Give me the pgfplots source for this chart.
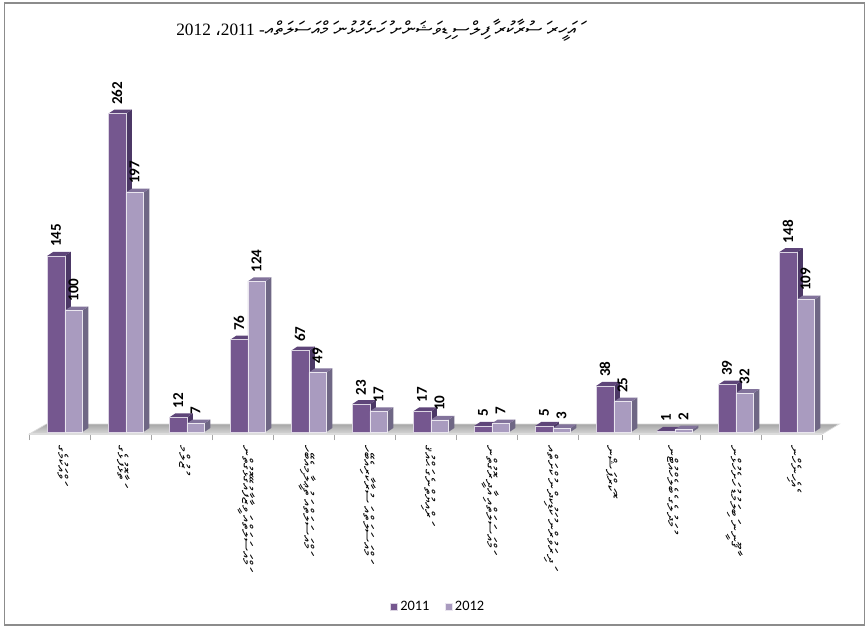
\documentclass[border=0pt]{standalone}
\usepackage{fontspec}
\usepackage{pgfplots}
\usepackage{pgfplotstable}
\pgfplotsset{compat=1.18}
\TeXXeTstate=1
\setmainfont{Carlito}
\newfontfamily\dv{FreeSerif}
\newfontfamily\serifnum{Liberation Serif}
\newfontfamily\arabicfont[Script=Arabic]{DejaVu Sans}
\definecolor{frontA}{HTML}{75578F}
\definecolor{sideA}{HTML}{4C3866}
\definecolor{topA}{HTML}{5E4579}
\definecolor{frontB}{HTML}{A99BBF}
\definecolor{sideB}{HTML}{6F6785}
\definecolor{topB}{HTML}{82739B}
\definecolor{floorF}{HTML}{DCDCDC}
\pgfplotstableread{
x a b
0 145 100
1 262 197
2 12 7
3 76 124
4 67 49
5 23 17
6 17 10
7 5 7
8 5 3
9 38 25
10 1 2
11 39 32
12 148 109
}\data
% depth of the bars, in data units
\def\ddx{0.0984}\def\ddy{3.29}\def\bw{0.287}
\newcommand\depthfaces[4]{% left x, value, side colour, top colour
  \pgfmathsetmacro\xr{#1+\bw}\pgfmathsetmacro\xrd{#1+\bw+\ddx}\pgfmathsetmacro\xld{#1+\ddx}\pgfmathsetmacro\yt{#2+\ddy}
  \addplot[forget plot,fill=#3,draw=none] coordinates {(\xr,0)(\xrd,\ddy)(\xrd,\yt)(\xr,#2)} --cycle;
  \addplot[forget plot,fill=#4,draw=none] coordinates {(#1,#2)(\xld,\yt)(\xrd,\yt)(\xr,#2)} --cycle;
}
\begin{document}
\begin{tikzpicture}[x=0.75pt,y=0.75pt]
\useasboundingbox (0,0) rectangle (866,-627);
\draw[draw=white,fill=white] (0,0) rectangle (866,-627);
\draw[color=gray!90,line width=1.1pt] (4.5,-3) rectangle (864.5,-625);
\begin{axis}[
  xshift=21.975pt,yshift=-326.25pt,anchor=south west,
  scale only axis,width=594.75pt,height=275.6pt,
  xmin=-0.5,xmax=12.5,ymin=-2.47,ymax=300,clip=false,
  axis y line=none,axis x line=bottom,
  x axis line style={draw=none,-},
  ytick=\empty,
  xtick={0,...,12},
  xticklabels={{\beginR ވައްކަމުގެ\endR},{\beginR ތަޅާފޮޅުގެ\endR},{\beginR ޒުލުމް\endR},
    {\beginR މައްސަލަތައް ވަޒީފާއާގުޅޭގޮތުން\endR},
    {\beginR މައްސަލަތައް ތަޢުލީމާއިބެހޭ\endR},
    {\beginR މައްސަލަތައް ސަރުކާރާއިބެހޭ\endR},
    {\beginR ރައްޔިތުންގެ ޙައްޤު\endR},
    {\beginR މައްސަލަތައް އިދާރީގޮތުން\endR},
    {\beginR ދަރިވަރުން ކުޑަކުދިން ކުށްތައް\endR},
    {\beginR ކޮރަޕްޝަން\endR},
    {\beginR މުދަލުގެ ބެލެހެއްޓުން\endR},
    {\beginR ޤާނޫނީ ބަލިމަޑު ހުށަހެޅުން\endR},
    {\beginR އެހެނިހެން\endR}},
  xticklabel style={rotate=-90,anchor=west,inner sep=0pt,font=\dv\fontsize{11}{12}\selectfont,text=black,xshift=8pt,yshift=2.5pt},
  major tick length=0pt,
  minor xtick={-0.5,0.5,...,12.5},
  minor tick length=3.75pt,
  every minor tick/.style={draw=gray!70,line width=0.6pt},
  tick align=outside,
  /pgf/number format/assume math mode=true,
  nodes near coords style={font=\bfseries\fontsize{11.3}{12}\selectfont},
  legend style={at={(0.516,-0.467)},anchor=center,draw=none,fill=none,legend columns=2,
     font=\fontsize{10.8}{12}\selectfont,/tikz/every even column/.append style={column sep=9.5pt}},
  legend image code/.code={\fill[#1] (0pt,-2.6pt) rectangle (5.2pt,2.6pt);},
]
% floor
\addplot[forget plot,top color=gray!70,bottom color=gray!30,draw=floorF,line width=0.5pt] coordinates {(-0.5,-1.65)(-0.221,6.58)(12.779,6.58)(12.5,-1.65)} --cycle;
\addplot[forget plot,fill=floorF,draw=none] coordinates {(-0.5,-2.47)(-0.5,-0.8)(12.5,-0.8)(12.5,-2.47)} --cycle;
% depth faces
\pgfplotsinvokeforeach{0,...,12}{
  \pgfplotstablegetelem{#1}{a}\of\data\let\va\pgfplotsretval
  \pgfplotstablegetelem{#1}{b}\of\data\let\vb\pgfplotsretval
  \pgfmathsetmacro\xa{#1-0.205}\pgfmathsetmacro\xb{#1+0.082}
  \depthfaces{\xa}{\va}{sideA}{topA}
  \depthfaces{\xb}{\vb}{sideB}{topB}
}
% front faces
\addplot[ybar,bar width=13.1pt,bar shift=-2.81pt,fill=frontA,draw=frontA!25!white,line width=0.4pt,
  nodes near coords,every node near coord/.append style={rotate=90,anchor=west,inner sep=0pt,xshift=6.5pt,yshift=2.8pt,text=black}]
  table[x=x,y=a]{\data};
\addlegendentry{2011}
\addplot[ybar,bar width=13.1pt,bar shift=10.31pt,fill=frontB,draw=frontB!25!white,line width=0.4pt,
  nodes near coords,every node near coord/.append style={rotate=90,anchor=west,inner sep=0pt,xshift=6.5pt,yshift=-10.3pt,text=black}]
  table[x=x,y=b]{\data};
\addlegendentry{2012}
\end{axis}
\node[anchor=west,inner sep=0pt,font=\serifnum\fontsize{13}{15}\selectfont] at (176,-30) {\beginR{\dv\fontsize{14.3}{15}\selectfont އަހަރީ ސަރުކާރު ފާލިސް ޑިވިޝަނަށް ހުށަހެޅުނު މައްސަލަތައް}- \beginL 2011\endL{\arabicfont\fontsize{13}{15}\selectfont ،}\ \beginL 2012\endL\endR};
\end{tikzpicture}
\end{document}
